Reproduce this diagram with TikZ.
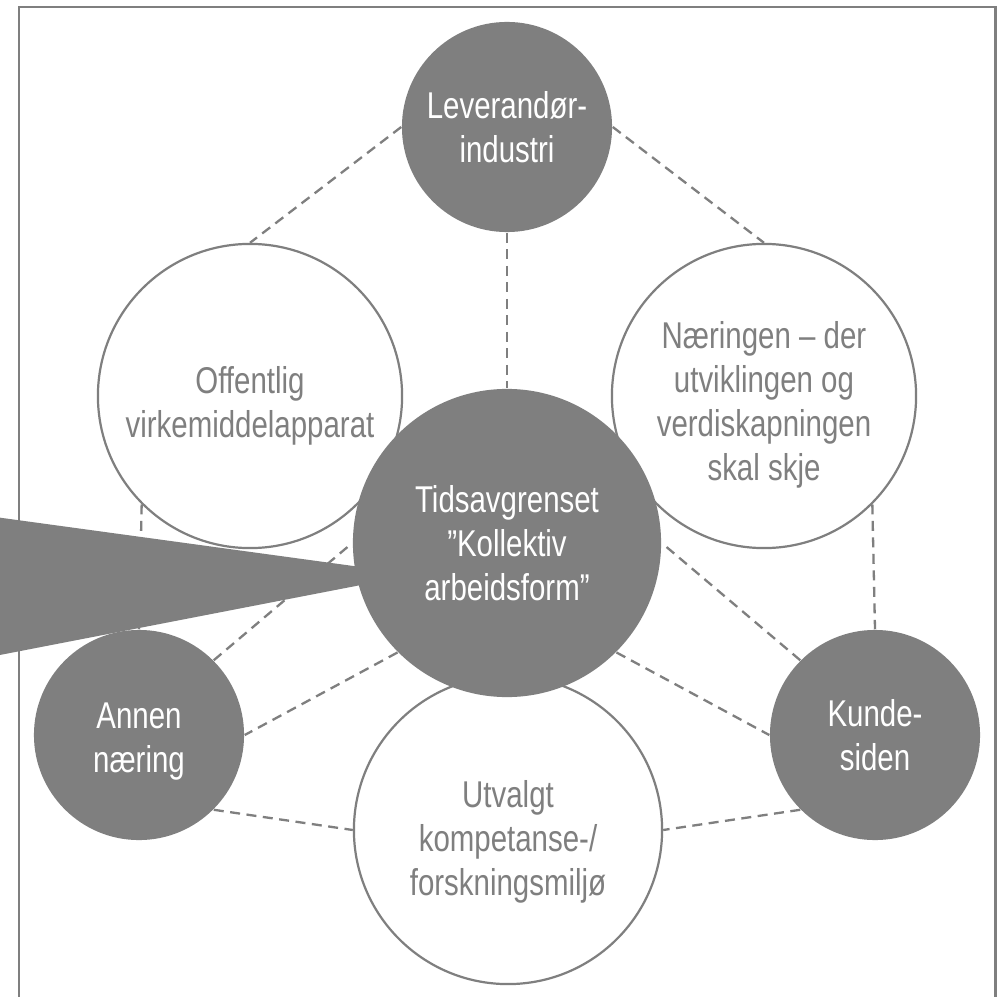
\documentclass[tikz,border=0pt]{standalone}
\usepackage{fontspec}
\setmainfont{Liberation Sans}[FakeStretch=0.79]
\usetikzlibrary{backgrounds}
\definecolor{cgray}{RGB}{127,127,127}
\begin{document}
\begin{tikzpicture}[x=0.01cm,y=-0.01cm,
  every node/.style={font=\fontsize{10.6}{12.5}\selectfont, align=center, inner sep=0pt},
  darkc/.style={circle, fill=cgray, text=white, minimum size=#1},
  lightc/.style={circle, draw=cgray, line width=0.022cm, fill=white, minimum size=#1},
  lighttext/.style={text=cgray},
  darktext/.style={text=white},
  link/.style={draw=cgray, line width=0.023cm, dash pattern=on 0.1cm off 0.065cm},
  frame/.style={draw=cgray, line width=0.027cm},
  pointer/.style={fill=cgray}]
\clip (0,0) rectangle (1000,997);
% white circles
\node[lightc=3.04cm] (off) at (250,396) {};
\node[lightc=3.04cm] (naer) at (764,396) {};
\node[lightc=3.08cm] (utv) at (508,830) {};
\node[lighttext] (offtxt) at ([yshift=-0.1cm]off.center) {Offentlig\\virkemiddelapparat};
\node[lighttext] (naertxt) at ([yshift=-0.09cm]naer.center) {Næringen – der\\utviklingen og\\verdiskapningen\\skal skje};
\node[lighttext] (utvtxt) at ([yshift=-0.12cm]utv.center) {Utvalgt\\kompetanse-/\\forskningsmiljø};
% dark circles
\node[darkc=2.10cm] (top) at (507,127) {Leverandør-\\industri};
\node[darkc=2.10cm] (annen) at (139,735) {};
\node[darktext] (annentxt) at ([yshift=-0.07cm]annen.center) {Annen\\næring};
\node[darkc=2.10cm] (kunde) at (875,735) {Kunde-\\siden};
\node[darkc=3.08cm] (ctr) at (507,543) {Tidsavgrenset\\”Kollektiv\\arbeidsform”};
% background: frame and dashed links
\begin{scope}[on background layer]
  \fill[white] (0,0) rectangle (1000,997);
  \draw[frame] (19,1020) -- (19,7) -- (995.5,7) -- (995.5,1020);
  \path[link] (top.180) -- (off.90);
  \path[link] (top.0) -- (naer.90);
  \path[link] (top.270) -- (ctr.90);
  \path[link] (off.225) -- (annen.90);
  \path[link] (naer.315) -- (kunde.90);
  \path[link] (annen.45) -- (ctr.180);
  \path[link] (ctr.225) -- (annen.0);
  \path[link] (kunde.135) -- (ctr.0);
  \path[link] (ctr.315) -- (kunde.180);
  \path[link] (annen.315) -- (utv.180);
  \path[link] (kunde.225) -- (utv.0);
\end{scope}
% callout pointer entering from the left
\fill[pointer] (-10,516.3) -- (357,566.5) -- (361,585) -- (-10,656.9) -- cycle;
\end{tikzpicture}
\end{document}
